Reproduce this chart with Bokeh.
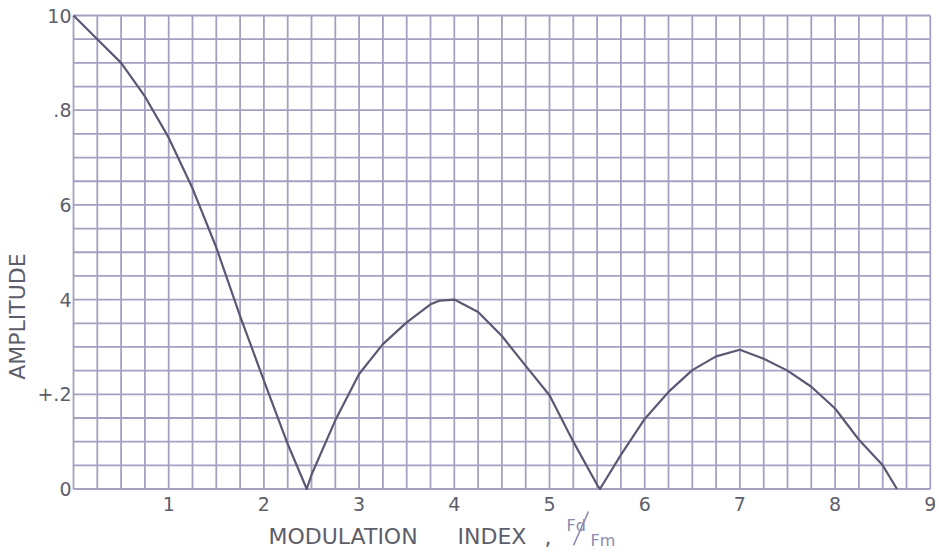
from bokeh.plotting import figure
from bokeh.models import Range1d
from bokeh.core.properties import value
from bokeh.embed import file_html
from bokeh.resources import INLINE
import numpy as np

# ---- data ----
mod_index = [0, 0.25, 0.5, 0.75, 1.0, 1.25, 1.5, 1.75, 2.0, 2.25, 2.45,
             2.5, 2.75, 3.0, 3.25, 3.5, 3.75, 3.85, 4.0, 4.25, 4.5, 4.75, 5.0, 5.25, 5.5, 5.53,
             5.75, 6.0, 6.25, 6.5, 6.75, 7.0, 7.25, 7.5, 7.75, 8.0, 8.25, 8.5, 8.65]
amplitude = [1.0, 0.95, 0.90, 0.829, 0.742, 0.635, 0.51, 0.365, 0.229, 0.095, 0.0,
             0.03, 0.145, 0.243, 0.306, 0.352, 0.39, 0.398, 0.40, 0.374, 0.323, 0.26, 0.198, 0.10, 0.009, 0.0,
             0.072, 0.148, 0.205, 0.251, 0.28, 0.294, 0.275, 0.25, 0.216, 0.17, 0.104, 0.05, 0.0]

x_ticks = [1, 2, 3, 4, 5, 6, 7, 8, 9]
x_tick_labels = ["1", "2", "3", "4", "5", "6", "7", "8", "9"]
y_ticks = [0, 0.2, 0.4, 0.6, 0.8, 1.0]
y_tick_labels = ["0", "+.2", "4", "6", ".8", "10"]
x_title = ["MODULATION", "INDEX", ","]
y_title = "AMPLITUDE"
ratio_top, ratio_bottom = "Fd", "Fm"

# ---- layout (page pixels) ----
W, H = 935, 550
X0, SX = 73.0, 95.2      # pixel of x=0, pixels per unit
Y0, SY = 488.5, 473.5    # pixel of y=0, pixels per unit
def dx(px): return (px - X0) / SX
def dy(py): return (Y0 - py) / SY

GRID = "#a3a1c1"
INK = "#5b5873"
TXT = "#5e5e6b"
SUB = "#8c8aae"
FONT = value("DejaVu Sans")

p = figure(width=W, height=H, output_backend="svg", toolbar_location=None,
           x_range=Range1d(dx(0), dx(W)), y_range=Range1d(dy(H), dy(0)),
           min_border=0)
p.axis.visible = False
p.grid.visible = False
p.outline_line_color = None
p.background_fill_color = "white"
p.border_fill_color = "white"

# graph-paper grid
gx = np.arange(0, 9.001, 0.25)
gy = np.arange(0, 1.0001, 0.05)
p.segment(x0=gx, y0=np.zeros_like(gx), x1=gx, y1=np.ones_like(gx),
          line_color=GRID, line_width=1.8)
p.segment(x0=np.zeros_like(gy), y0=gy, x1=np.full_like(gy, 9.0), y1=gy,
          line_color=GRID, line_width=1.8)

# curve
p.line(mod_index, amplitude, line_color=INK, line_width=2.2, line_join="round")

# tick labels
p.text(x=x_ticks, y=[dy(496)] * len(x_ticks), text=x_tick_labels,
       text_font=FONT, text_font_size="19px", text_color=TXT,
       text_align="center", text_baseline="top")
p.text(x=[dx(71)] * len(y_ticks), y=y_ticks, text=y_tick_labels,
       text_font=FONT, text_font_size="19px", text_color=TXT,
       text_align="right", text_baseline="middle")

# axis titles
p.text(x=[dx(268), dx(457), dx(544)], y=[dy(536)] * 3, text=x_title,
       text_font=FONT, text_font_size="22px", text_color=TXT,
       text_align="left", text_baseline="alphabetic")
p.text(x=[dx(566)], y=[dy(525)], text=[ratio_top], text_font=FONT,
       text_font_size="16px", text_color=SUB, text_baseline="alphabetic")
# fraction stroke between Fd and Fm
p.segment(x0=[dx(573)], y0=[dy(545)], x1=[dx(588)], y1=[dy(511)],
          line_color=SUB, line_width=1.6)
p.text(x=[dx(590)], y=[dy(540)], text=[ratio_bottom], text_font=FONT,
       text_font_size="16px", text_color=SUB, text_baseline="alphabetic")
p.text(x=[dx(17)], y=[dy(316)], text=[y_title], text_font=FONT,
       text_font_size="22px", text_color=TXT, angle=np.pi / 2,
       text_align="center", text_baseline="middle")

open("out.html", "w").write(file_html(p, INLINE))
